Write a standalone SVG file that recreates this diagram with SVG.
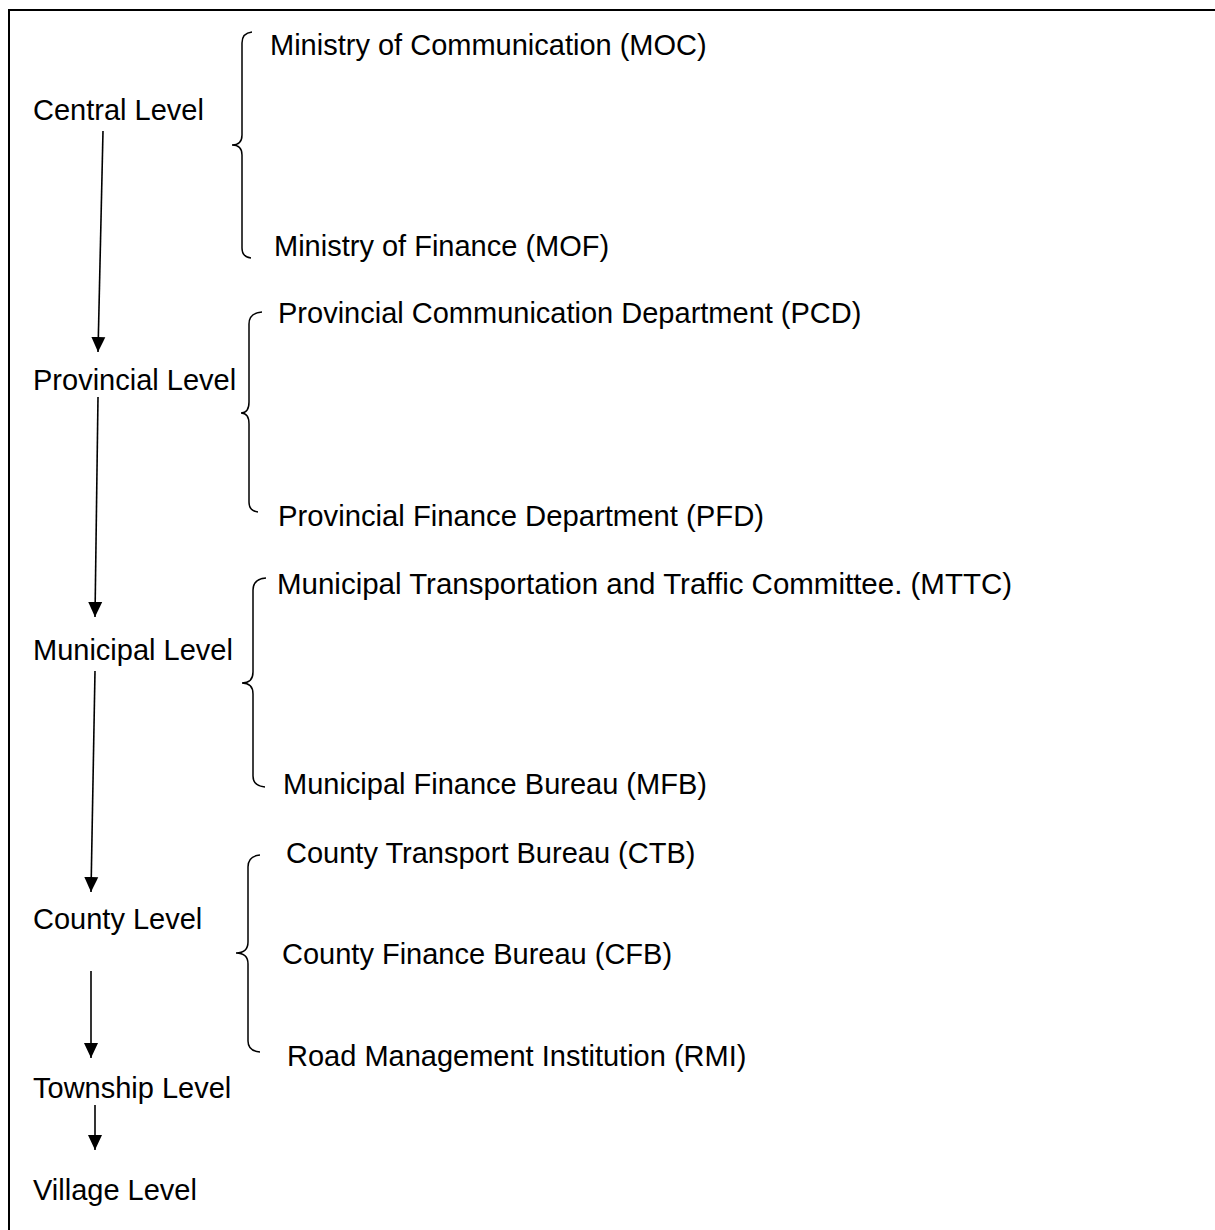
<svg xmlns="http://www.w3.org/2000/svg" width="1215" height="1230" viewBox="0 0 1215 1230">
<style>
text{font-family:"Liberation Sans",Arial,sans-serif;font-size:29px;fill:#000}
.brace{fill:none;stroke:#000;stroke-width:1.5}
.conn{fill:none;stroke:#000;stroke-width:1.6}
.frame{fill:none;stroke:#000;stroke-width:2}
</style>
<defs>
<marker id="ah" markerUnits="userSpaceOnUse" markerWidth="16" markerHeight="16" viewBox="0 0 16 16" refX="15" refY="8" orient="auto">
<path d="M0,1 L15,8 L0,15 Z" fill="#000"/>
</marker>
</defs>
<rect width="1215" height="1230" fill="#fff"/>
<path class="frame" d="M9,1230 V10 H1215"/>

<g id="central">
<text x="33" y="120">Central Level</text>
<path class="brace" d="M252,32 Q242,33 242,43 V135 Q242,145 232,145 Q242,145 242,155 V248 Q242,257 251,258"/>
<text x="270" y="55">Ministry of Communication (MOC)</text>
<text x="274" y="256">Ministry of Finance (MOF)</text>
</g>

<g id="provincial">
<text x="33" y="390">Provincial Level</text>
<path class="brace" d="M262,312 Q249,313 249,324 V402 Q249,413 241,413 Q249,413 249,424 V502 Q249,511 258,512"/>
<text x="278" y="323">Provincial Communication Department (PCD)</text>
<text x="278" y="526" textLength="486" lengthAdjust="spacingAndGlyphs">Provincial Finance Department (PFD)</text>
</g>

<g id="municipal">
<text x="33" y="660">Municipal Level</text>
<path class="brace" d="M266,578 Q253,579 253,590 V672 Q253,683 242,683 Q253,683 253,694 V776 Q253,786 265,787"/>
<text x="277" y="594" textLength="735" lengthAdjust="spacingAndGlyphs">Municipal Transportation and Traffic Committee. (MTTC)</text>
<text x="283" y="794">Municipal Finance Bureau (MFB)</text>
</g>

<g id="county">
<text x="33" y="929">County Level</text>
<path class="brace" d="M260,855 Q248,856 248,867 V942 Q248,953 236,953 Q248,953 248,964 V1041 Q248,1051 260,1052"/>
<text x="286" y="863">County Transport Bureau (CTB)</text>
<text x="282" y="964">County Finance Bureau (CFB)</text>
<text x="287" y="1066">Road Management Institution (RMI)</text>
</g>

<g id="township">
<text x="33" y="1098">Township Level</text>
</g>

<g id="village">
<text x="33" y="1200">Village Level</text>
</g>

<g id="connectors">
<line class="conn" x1="103" y1="131" x2="98" y2="352" marker-end="url(#ah)"/>
<line class="conn" x1="98" y1="397" x2="95" y2="617" marker-end="url(#ah)"/>
<line class="conn" x1="95" y1="671" x2="91" y2="892" marker-end="url(#ah)"/>
<line class="conn" x1="91" y1="971" x2="91" y2="1058" marker-end="url(#ah)"/>
<line class="conn" x1="95" y1="1105" x2="95" y2="1150" marker-end="url(#ah)"/>
</g>
</svg>
